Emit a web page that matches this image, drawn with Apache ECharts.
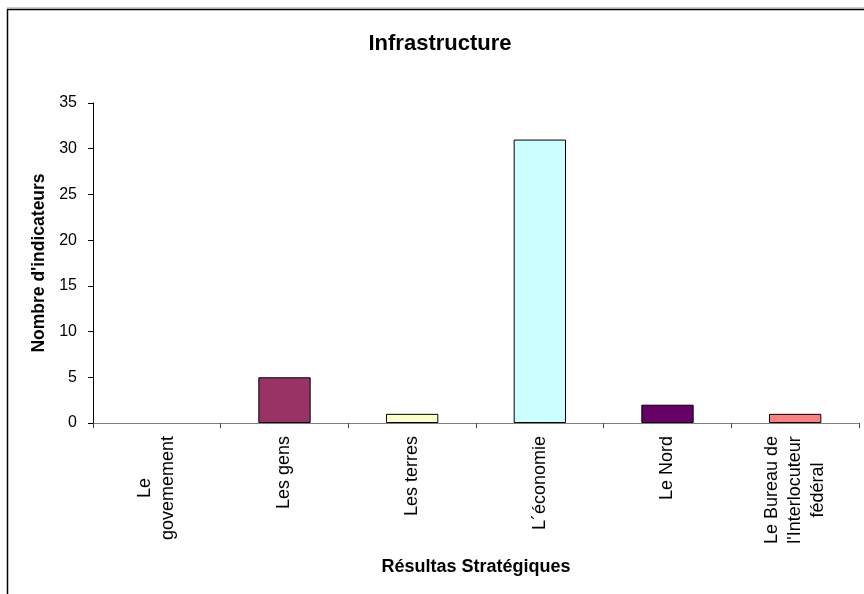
<!DOCTYPE html>
<html>
<head>
<meta charset="utf-8">
<script src="https://cdn.jsdelivr.net/npm/echarts@6/dist/echarts.min.js"></script>
<style>
  html, body { margin: 0; padding: 0; background: #fff; }
  #chart { width: 864px; height: 594px; }
</style>
</head>
<body>
<div id="chart"></div>
<script>
// Strategic outcomes and number of indicators for each
const categories = [
  'Le\ngovemement',
  'Les gens',
  'Les terres',
  'L\u00b4\u00e9conomie',
  'Le Nord',
  'Le Bureau de\nl\'Interlocuteur\nf\u00e9d\u00e9ral'
];
const values = [0, 5, 1, 31, 2, 1];
const barColors = ['#9999FF', '#993366', '#FFFFCC', '#CCFFFF', '#660066', '#FF8080'];
const yTicks = { min: 0, max: 35, interval: 5 };

const FONT = 'Liberation Sans, Arial, sans-serif';

const chart = echarts.init(document.getElementById('chart'));

chart.setOption({
  backgroundColor: '#ffffff',
  animation: false,
  title: {
    text: 'Infrastructure',
    left: 435,
    top: 28,
    textAlign: 'center',
    textStyle: { fontFamily: FONT, fontSize: 22, fontWeight: 'bold', color: '#000' }
  },
  grid: { left: 93, right: 5, top: 103, bottom: 171, containLabel: false },
  xAxis: {
    type: 'category',
    data: categories,
    name: 'R\u00e9sultas Strat\u00e9giques',
    nameLocation: 'middle',
    nameGap: 135,
    nameTextStyle: { fontFamily: FONT, fontSize: 18, fontWeight: 'bold', color: '#000' },
    axisLine: { lineStyle: { color: '#808080', width: 1 } },
    axisTick: { show: true, alignWithLabel: false, length: 5, lineStyle: { color: '#404040' } },
    axisLabel: {
      interval: 0,
      rotate: 90,
      margin: 13,
      color: '#000',
      fontFamily: FONT,
      fontSize: 18,
      lineHeight: 23,
      formatter: function (v) {
        return v.split('\n').map(function (line) { return '{c|' + line + '}'; }).join('\n');
      },
      rich: {
        c: { align: 'center', fontFamily: FONT, fontSize: 18, lineHeight: 23, color: '#000' }
      }
    },
    splitLine: { show: false }
  },
  yAxis: {
    type: 'value',
    min: yTicks.min,
    max: yTicks.max,
    interval: yTicks.interval,
    name: 'Nombre d\'indicateurs',
    nameLocation: 'middle',
    nameGap: 44,
    nameTextStyle: { fontFamily: FONT, fontSize: 17.5, fontWeight: 'bold', color: '#000' },
    axisLine: { show: true, lineStyle: { color: '#000', width: 1 } },
    axisTick: { show: true, length: 5, lineStyle: { color: '#000' } },
    axisLabel: { margin: 16, color: '#000', fontFamily: FONT, fontSize: 16 },
    splitLine: { show: false }
  },
  series: [{
    type: 'bar',
    barWidth: '41%',
    data: values.map(function (v, i) {
      return {
        value: v,
        itemStyle: {
          color: barColors[i],
          borderColor: '#000',
          borderWidth: v === 0 ? 0 : 1
        }
      };
    })
  }],
  graphic: [
    {
      type: 'rect',
      silent: true,
      z: -1,
      shape: { x: 7.5, y: 9.5, width: 900, height: 700 },
      style: { fill: 'none', stroke: '#000', lineWidth: 1.5 }
    },
    {
      type: 'line',
      silent: true,
      z: -1,
      shape: { x1: 7, y1: 8, x2: 864, y2: 8 },
      style: { stroke: '#999', lineWidth: 1 }
    }
  ]
});
</script>
</body>
</html>
